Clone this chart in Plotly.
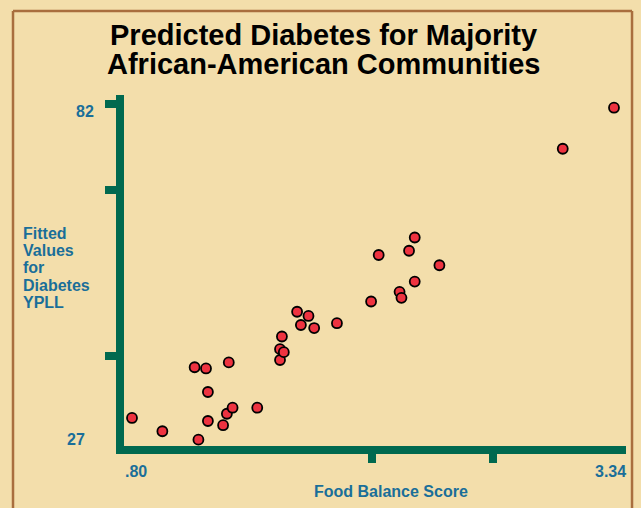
import plotly.graph_objects as go

# Food balance score vs fitted diabetes YPLL, one point per community
food_balance = [0.80, 0.96, 1.15, 1.13, 1.19, 1.20, 1.20, 1.28, 1.30, 1.33,
                1.31, 1.46, 1.58, 1.58, 1.60, 1.59, 1.67, 1.73, 1.69, 1.76,
                1.88, 2.06, 2.10, 2.21, 2.22, 2.26, 2.29, 2.29, 2.42, 3.07, 3.34]
fitted_ypll = [30.6, 28.4, 27.0, 39.0, 38.8, 34.9, 30.1, 29.4, 31.3, 32.3,
               39.8, 32.3, 40.2, 42.0, 41.5, 44.1, 48.2, 47.5, 46.0, 45.5,
               46.3, 49.9, 57.6, 51.5, 50.5, 58.3, 60.5, 53.2, 55.9, 75.2, 82.0]

x_ticks = [2.065, 2.70]
y_ticks = [82.6, 68.4, 40.8]
y_label_lines = ["Fitted", "Values", "for", "Diabetes", "YPLL"]

BG = "#F3DEAB"
GREEN = "#00694F"
BLUE = "#1A6E99"
BROWN = "#A96E3E"
FONT = "Liberation Sans"

fig = go.Figure(
    go.Scatter(
        x=food_balance,
        y=fitted_ypll,
        mode="markers",
        marker=dict(size=10, color="#EE3340", line=dict(color="black", width=1.8)),
        cliponaxis=False,
    )
)

fig.update_layout(
    width=641,
    height=508,
    margin=dict(l=124, r=15, t=95, b=62),
    paper_bgcolor=BG,
    plot_bgcolor=BG,
    showlegend=False,
    font=dict(family=FONT, color=BLUE),
)

fig.update_xaxes(
    range=[0.7578, 3.4033],
    showgrid=False,
    zeroline=False,
    showline=True,
    linecolor=GREEN,
    linewidth=8,
    ticks="outside",
    tickvals=x_ticks,
    ticklen=9,
    tickwidth=8,
    tickcolor=GREEN,
    showticklabels=False,
)
fig.update_yaxes(
    range=[25.956, 84.108],
    showgrid=False,
    zeroline=False,
    showline=True,
    linecolor=GREEN,
    linewidth=8,
    ticks="outside",
    tickvals=y_ticks,
    ticklen=11,
    tickwidth=8,
    tickcolor=GREEN,
    showticklabels=False,
)


def label(text, x, y, xref="paper", yref="paper", xanchor="center", font=None):
    fig.add_annotation(text=text, x=x, y=y, xref=xref, yref=yref,
                       xanchor=xanchor, yanchor="middle", showarrow=False,
                       font=font)


# title, two lines
title_font = dict(family=FONT, size=29, color="black", weight="bold")
label("Predicted Diabetes for Majority", 0.398, 1.1718, font=title_font)
label("African-American Communities", 0.398, 1.0897, font=title_font)

lab_font = dict(family=FONT, size=16, color=BLUE, weight="bold")

# end labels on the axes
label("82", -0.0777, 81.3, yref="y", font=lab_font)
label("27", -0.0956, 27.1, yref="y", font=lab_font)
label(".80", 0.821, -0.074, xref="x", font=lab_font)
label("3.34", 3.319, -0.074, xref="x", font=lab_font)

# axis titles
label("Food Balance Score", 0.532, -0.1296, font=lab_font)
for i, line in enumerate(y_label_lines):
    label(line, -0.2052, 0.6068 - i * 0.0498, xanchor="left", font=lab_font)

# brown frame around the panel
frame = dict(type="line", xref="paper", yref="paper", line=dict(color=BROWN, width=2.5))
fig.add_shape(x0=-0.2211, x1=-0.2211, y0=-0.25, y1=1.2393, **frame)
fig.add_shape(x0=1.012, x1=1.012, y0=-0.25, y1=1.2393, **frame)
fig.add_shape(x0=-0.2211, x1=1.012, y0=1.2393, y1=1.2393, **frame)

fig.write_html("out.html", config={"displayModeBar": False},
               post_script="document.body.style.margin='0';")
